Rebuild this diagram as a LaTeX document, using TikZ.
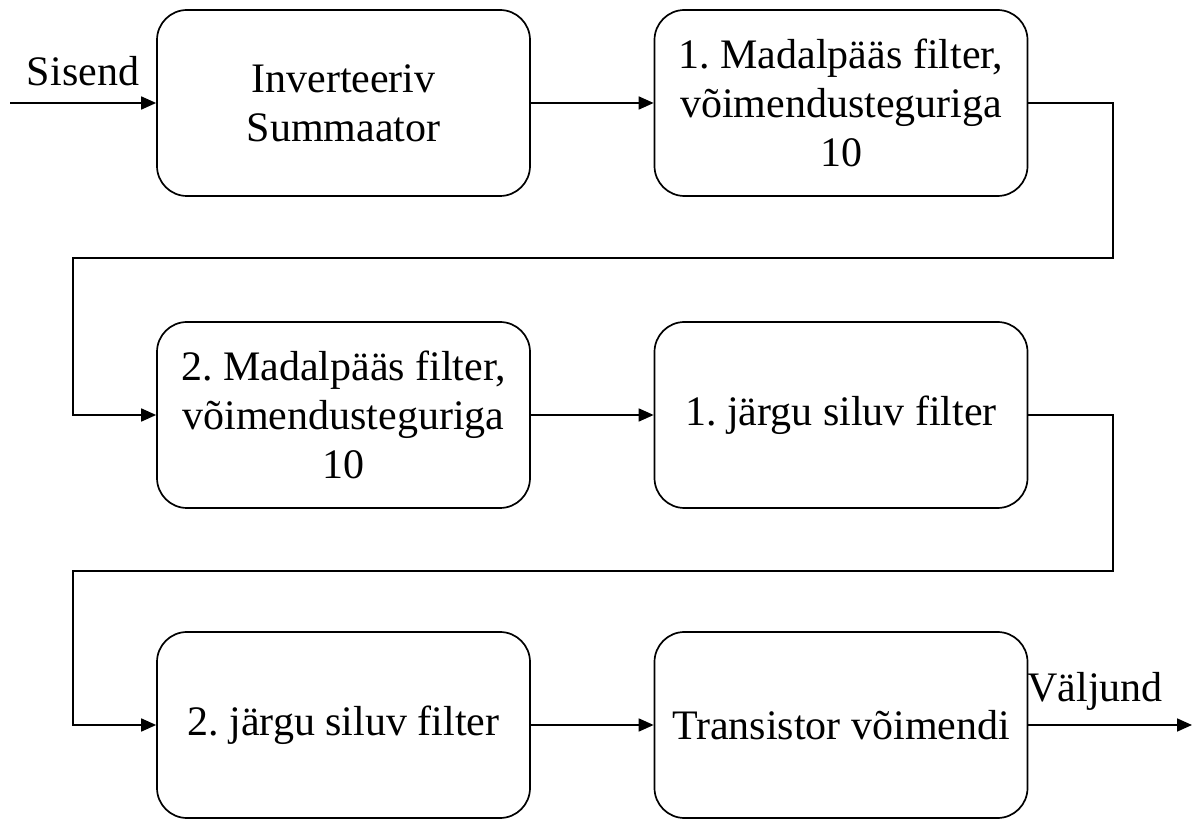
\documentclass[tikz,border=0pt]{standalone}
\usepackage{fontspec}
\setmainfont{Liberation Serif}
\usetikzlibrary{arrows.meta}
\frenchspacing
\begin{document}
\begin{tikzpicture}[x=1pt,y=1pt,
  blk/.style={draw, line width=1.7pt, rounded corners=30pt, minimum width=373pt, minimum height=186pt, inner sep=0pt, align=center, font=\fontsize{42}{49}\selectfont},
  lbl/.style={font=\fontsize{42}{49}\selectfont, inner sep=0pt},
  conn/.style={line width=1.7pt, -{Triangle[length=15pt,width=13pt]}},
  wire/.style={line width=1.7pt}]
\useasboundingbox (0,0) rectangle (1193,819);
\node[blk] (A) at (343.5,716) {Inverteeriv\\Summaator};
\node[blk] (B) at (841,716) {1. Madalpääs filter,\\võimendusteguriga\\10};
\node[blk] (C) at (343.5,404) {2. Madalpääs filter,\\võimendusteguriga\\10};
\node[blk] (D) at (841,404) {1. järgu siluv filter};
\node[blk] (E) at (343.5,94) {2. järgu siluv filter};
\node[blk] (F) at (841,94) {Transistor võimendi};
\coordinate (in) at (10,716);
\coordinate (r1) at (1113,561);
\coordinate (l1) at (73,561);
\coordinate (r2) at (1113,248);
\coordinate (l2) at (73,248);
\coordinate (out) at (1192,94);
\node[lbl] (sisend) at (83,748) {Sisend};
\node[lbl] (valjund) at (1095,128) {Väljund};
\draw[conn] (in) -- (A.west);
\draw[conn] (A.east) -- (B.west);
\draw[conn] (B.east) -| (r1) -- (l1) |- (C.west);
\draw[conn] (C.east) -- (D.west);
\draw[conn] (D.east) -| (r2) -- (l2) |- (E.west);
\draw[conn] (E.east) -- (F.west);
\draw[conn] (F.east) -- (out);
\end{tikzpicture}
\end{document}
